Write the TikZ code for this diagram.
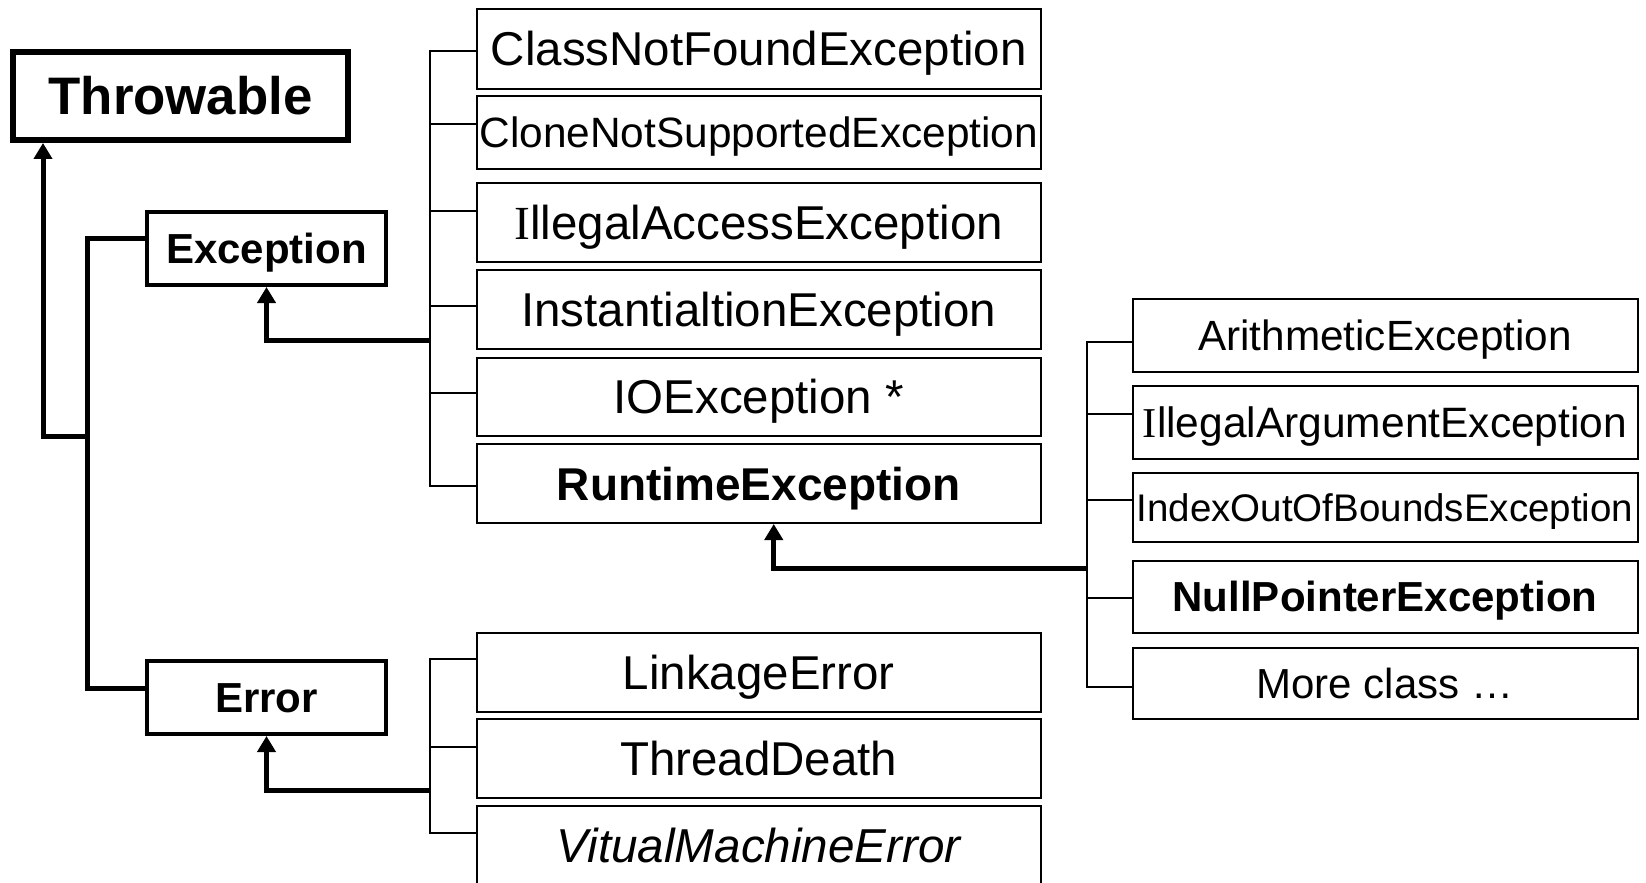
\documentclass[tikz,border=0pt]{standalone}
\usepackage{fontspec}
\setmainfont{Liberation Sans}
\newfontfamily\serifI{Liberation Serif}
\usetikzlibrary{arrows.meta}
\begin{document}
\begin{tikzpicture}[x=0.5pt,y=-0.5pt,
  box/.style={draw,line width=1pt,inner sep=0pt,text depth=0pt},
  lc/.style={box,minimum width=282.25pt},
  rc/.style={box,minimum width=252.5pt},
  fbig/.style={font=\fontsize{23.75pt}{24pt}\selectfont,text height=17pt},
  fmid/.style={font=\fontsize{21.2pt}{22pt}\selectfont,text height=15.2pt},
  brk/.style={line width=1pt},
  thk/.style={line width=2.5pt,line join=miter},
  arr/.style={thk,-{Triangle[width=9pt,length=8pt]}}]
\useasboundingbox (0,0) rectangle (1646,883);

% top-level classes
\node[box,line width=3pt,minimum width=167.5pt,minimum height=44pt,
  font=\bfseries\fontsize{26.4pt}{27pt}\selectfont,text height=18.9pt] (thr) at (180.5,96) {Throwable};
\node[box,line width=2pt,minimum width=119.5pt,minimum height=36.5pt,
  font=\bfseries\fontsize{21pt}{22pt}\selectfont,text height=15pt] (exc) at (266.5,248.5) {Exception};
\node[box,line width=2pt,minimum width=119.5pt,minimum height=36.5pt,
  font=\bfseries\fontsize{21pt}{22pt}\selectfont,text height=15pt] (err) at (266.5,697.5) {Error};

% Exception subclasses
\node[lc,fbig,minimum height=40pt] (cnf) at (758.75,49) {ClassNotFoundException};
\node[lc,fmid,minimum height=36.25pt] (cns) at (758.75,132.75) {CloneNotSupportedException};
\node[lc,fbig,minimum height=39.75pt] (iae) at (758.75,222.75) {{\serifI I}llegalAccessException};
\node[lc,fbig,minimum height=39.25pt] (ins) at (758.75,309.75) {InstantialtionException};
\node[lc,fbig,minimum height=39.25pt] (ioe) at (758.75,396.75) {IOException *};
\node[lc,minimum height=39.5pt,font=\bfseries\fontsize{23pt}{24pt}\selectfont,text height=16.5pt] (rte) at (758.75,483.5) {RuntimeException};

% Error subclasses
\node[lc,fbig,minimum height=39.5pt] (lnk) at (758.75,672.5) {LinkageError};
\node[lc,fbig,minimum height=39.5pt] (thd) at (758.75,758.5) {ThreadDeath};
\node[lc,fbig,minimum height=39.5pt,font=\itshape\fontsize{23.8pt}{24pt}\selectfont] (vme) at (758.75,845.5) {VitualMachineError};

% RuntimeException subclasses
\node[rc,minimum height=36.5pt,font=\fontsize{21.15pt}{22pt}\selectfont,text height=15.1pt] (ari) at (1385,335.5) {ArithmeticException};
\node[rc,minimum height=36.5pt,font=\fontsize{21.25pt}{22pt}\selectfont,text height=15.2pt] (iar) at (1385,422.5) {{\serifI I}llegalArgumentException};
\node[rc,minimum height=34.5pt,font=\fontsize{19.25pt}{20pt}\selectfont,text height=13.8pt] (idx) at (1385,507.5) {IndexOutOfBoundsException};
\node[rc,minimum height=36.25pt,font=\bfseries\fontsize{21pt}{22pt}\selectfont,text height=15pt] (npe) at (1385,596.75) {NullPointerException};
\node[rc,minimum height=35.75pt,font=\fontsize{21pt}{22pt}\selectfont,text height=15pt] (mor) at (1385,683.25) {More class …};

% bracket x positions and junctions
\coordinate (bx) at (430,0);
\coordinate (rbx) at (1087,0);
\coordinate (vx) at (87,0);

% Exception bracket
\coordinate (t1) at ([yshift=-1pt]cnf.west);
\coordinate (t2) at ([yshift=4.5pt]cns.west);
\coordinate (t3) at ([yshift=5.75pt]iae.west);
\coordinate (t4) at ([yshift=2pt]ins.west);
\coordinate (t5) at ([yshift=2pt]ioe.west);
\coordinate (t6) at ([yshift=-1pt]rte.west);
\draw[brk] (t1) -- (t1 -| bx) -- (t6 -| bx) -- (t6);
\foreach \t in {t2,t3,t4,t5} \draw[brk] (\t -| bx) -- (\t);

% Error bracket
\coordinate (e1) at ([yshift=6.75pt]lnk.west);
\coordinate (e2) at ([yshift=5.75pt]thd.west);
\coordinate (e3) at ([yshift=6.25pt]vme.west);
\draw[brk] (e1) -- (e1 -| bx) -- (e3 -| bx) -- (e3);
\draw[brk] (e2 -| bx) -- (e2);

% RuntimeException bracket
\coordinate (r1) at ([yshift=-3.25pt]ari.west);
\coordinate (r2) at ([yshift=4.25pt]iar.west);
\coordinate (r3) at ([yshift=3.75pt]idx.west);
\coordinate (r4) at ([yshift=-0.5pt]npe.west);
\coordinate (r5) at ([yshift=-2pt]mor.west);
\draw[brk] (r1) -- (r1 -| rbx) -- (r5 -| rbx) -- (r5);
\foreach \t in {r2,r3,r4} \draw[brk] (\t -| rbx) -- (\t);

% inheritance arrows
\coordinate (ej) at (430,340);
\draw[arr] (ej) -| (exc.south);
\coordinate (erj) at (430,790);
\draw[arr] (erj) -| (err.south);
\coordinate (rj) at (1087,568);
\coordinate (rtb) at ([xshift=7.5pt]rte.south);
\draw[arr] (rj) -| (rtb);

% Exception / Error to Throwable
\coordinate (eL) at ([yshift=4.75pt]exc.west);
\coordinate (rL) at ([yshift=4.75pt]err.west);
\draw[thk] (eL) -- (eL -| vx) -- (rL -| vx) -- (rL);
\coordinate (tj) at (87,436.5);
\coordinate (tx) at (43,436.5);
\draw[arr] (tj) -- (tx) -- (tx |- thr.south);
\end{tikzpicture}
\end{document}
